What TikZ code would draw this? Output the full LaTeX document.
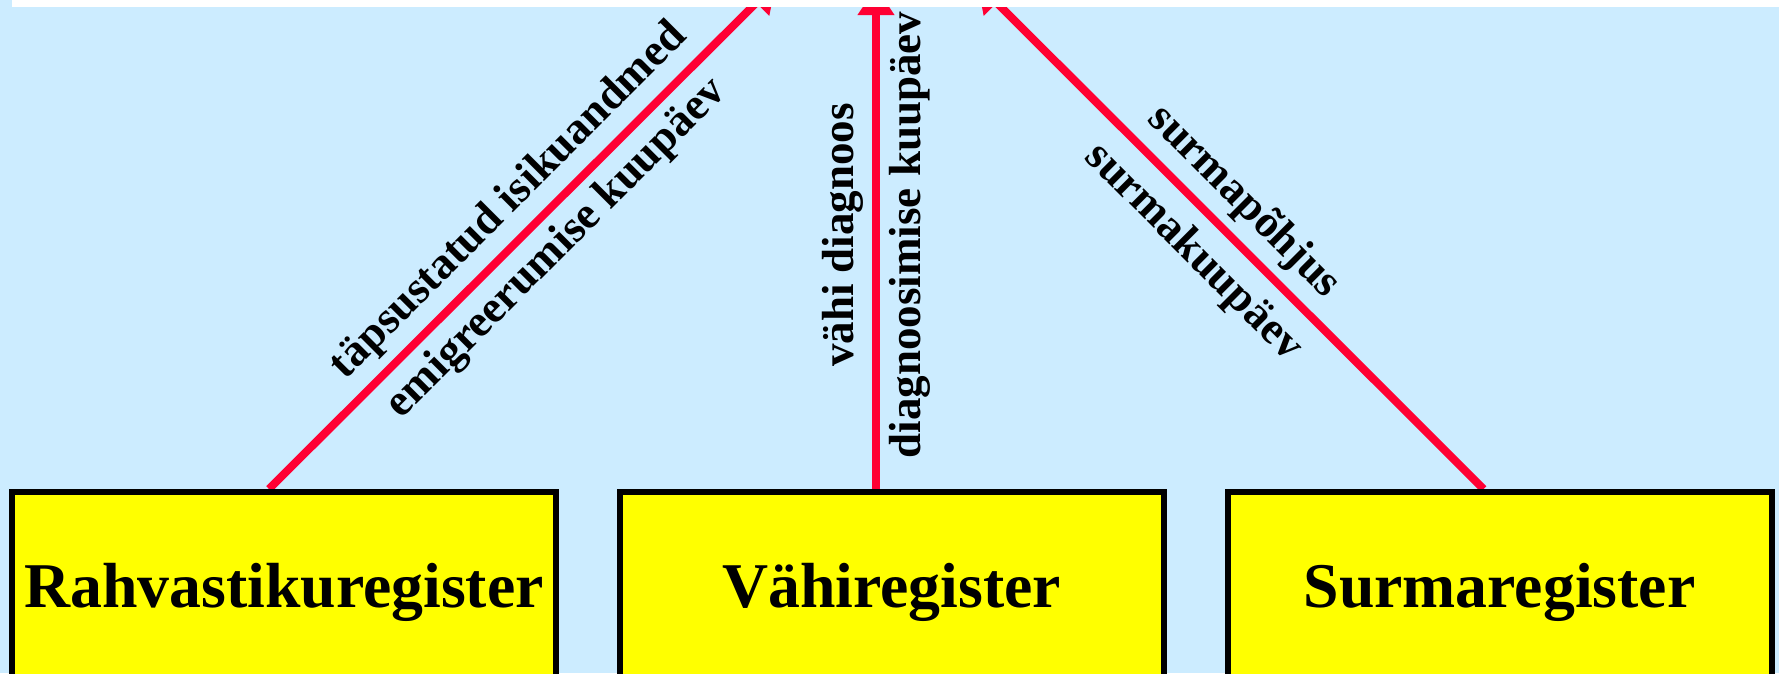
\documentclass[tikz,border=0pt]{standalone}
\usepackage{fontspec}
\setmainfont{Liberation Serif}
\usetikzlibrary{arrows.meta,calc}
\definecolor{skyfill}{RGB}{204,236,255}
\definecolor{linkred}{RGB}{255,0,51}
\definecolor{boxyellow}{RGB}{255,255,0}
\pgfdeclarelayer{backdrop}
\pgfdeclarelayer{feeds}
\pgfsetlayers{backdrop,feeds,main}

\begin{document}
\begin{tikzpicture}[x=0.4pt,y=-0.4pt,
  register/.style={draw=black, line width=2.4pt, fill=boxyellow,
    minimum width=217.6pt, minimum height=80pt, inner sep=0pt,
    font=\fontsize{25.5}{30}\selectfont\bfseries,
    text height=17.85pt, text depth=5.6pt},
  feed/.style={draw=linkred, line width=3.2pt,
    -{Triangle[width=14pt,length=11.2pt]}},
  tag/.style={font=\fontsize{18}{21}\selectfont\bfseries, inner sep=0pt}]

\useasboundingbox (0,0) rectangle (1779,673);
\clip (0,0) rectangle (1779,673);

% backdrop
\begin{pgfonlayer}{backdrop}
\fill[skyfill] (0,0) rectangle (1779,673);
\end{pgfonlayer}

% free ends of the three feeds, above the top edge
\coordinate (tipL) at (776,-17);
\coordinate (tipM) at (876,-13);
\coordinate (tipR) at (977,-17);

% register boxes (bottom edge runs off the page)
\node[register] (pop) at (284,592) {Rahvastikuregister};
\node[register] (can) at (891.5,592) {Vähiregister};
\node[register] (dth) at (1499.5,592) {Surmaregister};

% data feeds, kept under the boxes
\begin{pgfonlayer}{feeds}
\draw[feed] ($(pop.north)+(-15,0)$) -- (tipL);
\draw[feed] ($(can.north)+(-15.5,0)$) -- (tipM);
\draw[feed] ($(dth.north)+(-16,0)$) -- (tipR);
\end{pgfonlayer}

% feed labels
\node[tag, rotate=45, anchor=base] (popA) at (517,209) {täpsustatud isikuandmed};
\node[tag, rotate=45, anchor=north] (popB) at (542,234) {emigreerumise kuupäev};
\node[tag, rotate=90, anchor=base] (canA) at (853,235) {vähi diagnoos};
\node[tag, rotate=90, anchor=north] (canB) at (889,235) {diagnoosimise kuupäev};
\node[tag, rotate=-45, anchor=base] (dthA) at (1236,210) {surmapõhjus};
\node[tag, rotate=-45, anchor=north] (dthB) at (1208,238) {surmakuupäev};

% white strip along the top
\fill[white] (12,0) rectangle (1779,7);
\end{tikzpicture}
\end{document}
